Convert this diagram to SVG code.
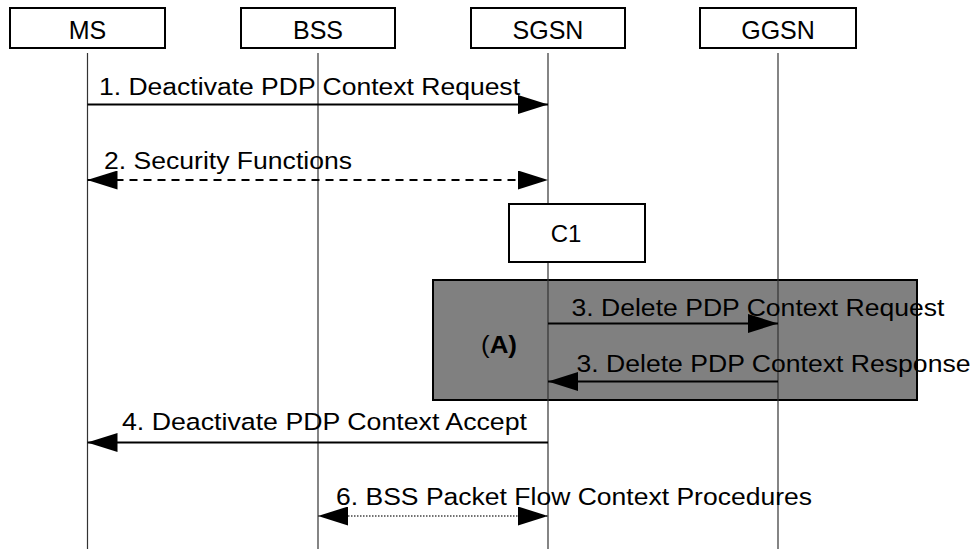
<svg xmlns="http://www.w3.org/2000/svg" width="972" height="549" viewBox="0 0 972 549">
<style>
  .box { fill: #ffffff; stroke: #000000; stroke-width: 2; }
  .life { stroke: #333333; stroke-width: 1.2; fill: none; }
  .hdr { font-family: "Liberation Sans", Arial, sans-serif; font-size: 25px; fill: #000000; text-anchor: middle; }
  .lbl { font-family: "Liberation Sans", Arial, sans-serif; font-size: 23px; fill: #000000; }
  .msg { stroke: #000000; stroke-width: 2; fill: none; }
  .dash { stroke-dasharray: 8 6; }
  .dot { stroke: #444444; stroke-width: 1.5; stroke-dasharray: 1.5 1.5; }
  .grp { fill: #808080; stroke: #000000; stroke-width: 2; }
</style>
<defs>
  <marker id="ah" markerUnits="userSpaceOnUse" markerWidth="30" markerHeight="19" refX="30" refY="9.5" orient="auto-start-reverse" viewBox="0 0 30 19">
    <path d="M0,0 L30,9.5 L0,19 z" fill="#000000"/>
  </marker>
</defs>

<g id="groupA">
  <rect class="grp" x="433" y="280" width="484" height="120"/>
  <text class="lbl" x="481" y="353" textLength="36" lengthAdjust="spacingAndGlyphs">(<tspan font-weight="bold">A)</tspan></text>
</g>

<g id="MS">
  <rect class="box" x="10" y="8" width="155" height="40"/>
  <text class="hdr" x="87.5" y="38.5">MS</text>
  <line class="life" x1="87.5" y1="53" x2="87.5" y2="549"/>
</g>
<g id="BSS">
  <rect class="box" x="241" y="8" width="154" height="40"/>
  <text class="hdr" x="318" y="38.5">BSS</text>
  <line class="life" x1="318" y1="53" x2="318" y2="549"/>
</g>
<g id="SGSN">
  <rect class="box" x="471" y="8" width="154" height="40"/>
  <text class="hdr" x="548" y="38.5">SGSN</text>
  <line class="life" x1="548" y1="53" x2="548" y2="549"/>
</g>
<g id="GGSN">
  <rect class="box" x="700" y="8" width="156" height="40"/>
  <text class="hdr" x="778" y="38.5">GGSN</text>
  <line class="life" x1="778" y1="53" x2="778" y2="549"/>
</g>

<g id="C1">
  <rect class="box" x="509" y="204" width="136" height="58"/>
  <text class="hdr" x="566" y="241.5" style="font-size:24px">C1</text>
</g>

<g id="connectors">
  <line class="msg" x1="87.5" y1="104.5" x2="548" y2="104.5" marker-end="url(#ah)"/>
  <text class="lbl" x="99" y="95" textLength="421" lengthAdjust="spacingAndGlyphs">1. Deactivate PDP Context Request</text>

  <line class="msg dash" x1="87.5" y1="180" x2="548" y2="180" marker-start="url(#ah)" marker-end="url(#ah)"/>
  <text class="lbl" x="104" y="168.5" textLength="248" lengthAdjust="spacingAndGlyphs">2. Security Functions</text>

  <line class="msg" x1="548" y1="323.5" x2="778" y2="323.5" marker-end="url(#ah)"/>
  <text class="lbl" x="571.5" y="315.5" textLength="373" lengthAdjust="spacingAndGlyphs">3. Delete PDP Context Request</text>

  <line class="msg" x1="778" y1="381.5" x2="548" y2="381.5" marker-end="url(#ah)"/>
  <text class="lbl" x="576.5" y="372" textLength="394" lengthAdjust="spacingAndGlyphs">3. Delete PDP Context Response</text>

  <line class="msg" x1="548" y1="442.5" x2="87.5" y2="442.5" marker-end="url(#ah)"/>
  <text class="lbl" x="122" y="429.5" style="font-size:24.5px" textLength="405" lengthAdjust="spacingAndGlyphs">4. Deactivate PDP Context Accept</text>

  <line class="dot" x1="318" y1="516" x2="548" y2="516" marker-start="url(#ah)" marker-end="url(#ah)"/>
  <text class="lbl" x="336" y="505" textLength="476" lengthAdjust="spacingAndGlyphs">6. BSS Packet Flow Context Procedures</text>
</g>
</svg>
